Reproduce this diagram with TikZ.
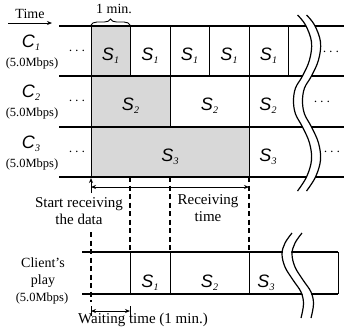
\documentclass[tikz,border=0pt]{standalone}
\usepackage{fontspec}
\setmainfont{Liberation Serif}
\newfontfamily\arialfont{Liberation Sans}
\usetikzlibrary{arrows.meta,decorations.pathreplacing}
\definecolor{shadefill}{HTML}{D8D8D8}
\newcommand\seglbl[1]{{\fontsize{18}{18}\selectfont\arialfont\itshape S}\kern0.3pt\raisebox{-3pt}{\fontsize{10}{10}\selectfont\itshape #1}}
\newcommand\chlbl[1]{{\fontsize{18}{18}\selectfont\arialfont\itshape C}\kern0.3pt\raisebox{-3pt}{\fontsize{10}{10}\selectfont\itshape #1}}
\begin{document}
\begin{tikzpicture}[x=1pt,y=-1pt,
  rowline/.style={line width=1.3pt},
  cellline/.style={line width=1pt},
  dashln/.style={line width=1.2pt, dash pattern=on 5pt off 3.5pt},
  lbl/.style={inner sep=0pt, anchor=base},
  txt/.style={font=\fontsize{15}{17}\selectfont, align=center, inner sep=0pt},
  mbps/.style={font=\fontsize{12.5}{13}\selectfont, inner sep=0pt, anchor=base},
  dots/.style={inner sep=0pt, font=\fontsize{15}{15}\selectfont},
  arr/.style={-{Stealth[length=5pt,width=4pt]}, line width=0.9pt},
  darr/.style={{Stealth[length=5pt,width=4pt]}-{Stealth[length=5pt,width=4pt]}, line width=0.9pt},
  wgap/.style={white, line width=8pt},
  wline/.style={black, line width=1.2pt}]
\useasboundingbox (0,0) rectangle (344,327);

% shaded cells
\fill[shadefill] (91,26) rectangle (130,76);
\fill[shadefill] (91,76) rectangle (170,127);
\fill[shadefill] (91,127) rectangle (249,177);

% grid
\foreach \y in {26,76,127,177} \draw[rowline] (59,\y) -- (344,\y);
\draw[cellline] (91,26) -- (91,177);
\draw[cellline] (130,26) -- (130,76);
\draw[cellline] (170,26) -- (170,127);
\draw[cellline] (209,26) -- (209,76);
\draw[cellline] (249,26) -- (249,177);
\draw[cellline] (288,26) -- (288,76);

% top break mark
\foreach \dx/\st in {0/wgap,-4.5/wline,4.5/wline}
  \draw[\st, xshift=\dx pt] plot[smooth, tension=0.6] coordinates {(302,15) (310,25) (316,42) (314,60) (307,76) (300,88) (298,101) (300,114) (307,127) (314,143) (316,160) (311,177) (302,191)};

% time arrow and label
\node[txt, anchor=base, font=\fontsize{14}{16}\selectfont] (time) at (30,18) {Time};
\coordinate (t0) at (8,23);
\coordinate (t1) at (52,23);
\draw[arr] (t0) -- (t1);

% 1 min brace
\node[txt, anchor=base, font=\fontsize{14}{16}\selectfont] (onemin) at (114,13) {1 min.};
\coordinate (b0) at (91,25);
\coordinate (b1) at (130,25);
\draw[line width=0.9pt, decorate, decoration={brace, amplitude=6pt}] (b0) -- (b1);

% channel labels
\node[lbl] (c1) at (31,47) {\chlbl{1}};
\node[mbps] (m1) at (32,66) {(5.0Mbps)};
\node[lbl] (c2) at (31,97.5) {\chlbl{2}};
\node[mbps] (m2) at (32,116.5) {(5.0Mbps)};
\node[lbl] (c3) at (31,148) {\chlbl{3}};
\node[mbps] (m3) at (32,167) {(5.0Mbps)};

\node[dots] (l1) at (77,51) {$\cdots$};
\node[dots] (l2) at (77,101.5) {$\cdots$};
\node[dots] (l3) at (77,152) {$\cdots$};
\node[dots] (r1) at (331,52) {$\cdots$};
\node[dots] (r2) at (322,102) {$\cdots$};
\node[dots] (r3) at (332,152) {$\cdots$};

% segment labels
\node[lbl] (s11) at (110.5,60) {\seglbl{1}};
\node[lbl] (s12) at (150,60) {\seglbl{1}};
\node[lbl] (s13) at (189.5,60) {\seglbl{1}};
\node[lbl] (s14) at (229,60) {\seglbl{1}};
\node[lbl] (s15) at (268.5,60) {\seglbl{1}};
\node[lbl] (s21) at (130.5,110) {\seglbl{2}};
\node[lbl] (s22) at (209.5,110) {\seglbl{2}};
\node[lbl] (s23) at (268,110) {\seglbl{2}};
\node[lbl] (s31) at (170,161) {\seglbl{3}};
\node[lbl] (s32) at (268,161) {\seglbl{3}};

% dashed guides
\draw[dashln] (130,177) -- (130,252);
\draw[dashln] (170,177) -- (170,252);
\draw[dashln] (249,177) -- (249,252);
\draw[dashln] (91,232) -- (91,302);

% receiving arrows
\coordinate (up0) at (91,193);
\coordinate (up1) at (91,178);
\draw[arr] (up0) -- (up1);
\coordinate (ra) at (91,187);
\coordinate (rb) at (249,187);
\draw[darr] (ra) -- (rb);
\node[txt, anchor=north] (start) at (79,197.5) {Start receiving\\the data};
\node[txt, anchor=north] (recv) at (208,194.5) {Receiving\\time};

% client's play
\foreach \y in {252,294} \draw[rowline] (82,\y) -- (338,\y);
\foreach \x in {130,170,249,338} \draw[cellline] (\x,252) -- (\x,294);
\node[lbl] (p1) at (150,287) {\seglbl{1}};
\node[lbl] (p2) at (209.5,287) {\seglbl{2}};
\node[lbl] (p3) at (266,287) {\seglbl{3}};
\node[txt, anchor=north, font=\fontsize{14}{17}\selectfont] (client) at (43,257.5) {Client's\\play};
\node[mbps] (m4) at (42,301) {(5.0Mbps)};

% bottom break mark
\foreach \dx/\st in {0/wgap,-5/wline,5/wline}
  \draw[\st, xshift=\dx pt] plot[smooth, tension=0.6] coordinates {(297,233) (290,243) (287,254) (290,267) (298,280) (306,292) (308.5,304) (306,318)};

% waiting time
\coordinate (w0) at (91,311);
\coordinate (w1) at (130,311);
\draw[line width=0.9pt] (91,306) -- (91,316) (130,306) -- (130,316);
\draw[darr] (w0) -- (w1);
\node[txt, anchor=base] (wait) at (143,323) {Waiting time (1 min.)};
\end{tikzpicture}
\end{document}
